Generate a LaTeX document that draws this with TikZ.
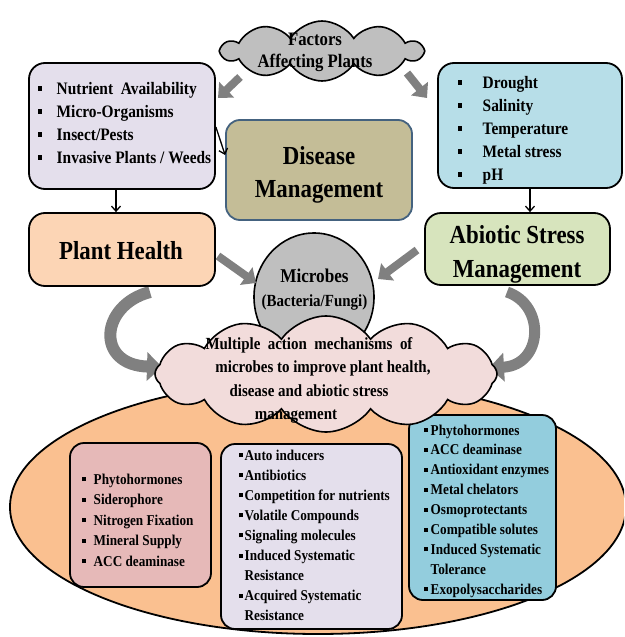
\documentclass[tikz,border=0pt]{standalone}
\usepackage{fontspec}
\setmainfont{Liberation Serif}[FakeStretch=0.88]
\usetikzlibrary{shapes.symbols,shapes.geometric,arrows.meta}
\definecolor{lavc}{HTML}{E4DFEC}
\definecolor{pinkb}{HTML}{E6B9B8}
\definecolor{blueb}{HTML}{93CDDD}
\definecolor{ltblue}{HTML}{B7DEE8}
\definecolor{peachc}{HTML}{FCD5B5}
\definecolor{greenc}{HTML}{D7E4BD}
\definecolor{tanc}{HTML}{C4BD97}
\definecolor{disborder}{HTML}{44627F}
\definecolor{grayc}{HTML}{BFBFBF}
\definecolor{pinkcl}{HTML}{F2DCDB}
\definecolor{ellc}{HTML}{FAC090}
\definecolor{arrgray}{HTML}{808080}
\newcommand\fsz[2]{\fontsize{#1}{#2}\selectfont\bfseries}
\newcommand\bta{\makebox[19pt][l]{\rule[3.5pt]{4.5pt}{5pt}}}
\newcommand\btb{\makebox[25pt][l]{\rule[3.5pt]{4.5pt}{5pt}}}
\newcommand\bba{\makebox[11.5pt][l]{\rule[3pt]{3.5pt}{4pt}}}
\newcommand\bbm{\makebox[5.5pt][l]{\rule[3pt]{3.5pt}{4pt}}}
\newcommand\bbr{\makebox[6.5pt][l]{\rule[3pt]{3.5pt}{4pt}}}
\begin{document}
\begin{tikzpicture}[x=1pt,y=-1pt,
  box/.style={draw=black, line width=1.8pt, rounded corners=16pt, inner sep=0pt},
  sbox/.style={draw=black, line width=1.8pt, rounded corners=14pt, inner sep=0pt},
  txt/.style={inner sep=0pt, align=left},
  ctxt/.style={inner sep=0pt, align=center},
  garrow/.style={draw=arrgray, line width=8pt, -{Triangle[length=12pt,width=21pt]}},
  carrow/.style={draw=arrgray, line width=12pt, -{Triangle[length=15pt,width=28pt]}},
  blk/.style={draw=black, line width=1.3pt, -{Straight Barb[length=5pt,width=9pt]}},
  cloudy/.style={cloud, draw=black, line width=1.6pt, inner sep=0pt}]
\useasboundingbox (0,0) rectangle (624,637);
% big ellipse
\begin{scope}
\clip (0,0) rectangle (624,637);
\node[ellipse, draw=black, line width=1.8pt, fill=ellc, minimum width=616pt, minimum height=254pt, inner sep=0pt] (ell) at (318,507) {};
\end{scope}
% bottom boxes
\node[sbox, fill=pinkb, minimum width=141pt, minimum height=144pt] (lbb) at (140.5,515) {};
\node[sbox, fill=lavc, minimum width=181pt, minimum height=185pt] (mbb) at (311.5,536.5) {};
\node[sbox, fill=blueb, minimum width=147pt, minimum height=185pt] (rbb) at (482.5,507.5) {};
\node[txt, anchor=base west, font=\fsz{15pt}{20.5pt}] (lbt) at (82,566) {\bba Phytohormones\\\bba Siderophore\\\bba Nitrogen Fixation\\\bba Mineral Supply\\\bba ACC deaminase};
\node[txt, anchor=base west, font=\fsz{15pt}{20.1pt}] (mbt) at (239,620.8) {\bbm Auto inducers\\\bbm Antibiotics\\\bbm Competition for nutrients\\\bbm Volatile Compounds\\\bbm Signaling molecules\\\bbm Induced Systematic\\\phantom{\bbm}Resistance\\\bbm Acquired Systematic\\\phantom{\bbm}Resistance};
\node[txt, anchor=base west, font=\fsz{15pt}{19.9pt}] (rbt) at (424,594.2) {\bbr Phytohormones\\\bbr ACC deaminase\\\bbr Antioxidant enzymes\\\bbr Metal chelators\\\bbr Osmoprotectants\\\bbr Compatible solutes\\\bbr Induced Systematic\\\phantom{\bbr}Tolerance\\\bbr Exopolysaccharides};
% curved arrows
\coordinate (cls) at (150,292);
\coordinate (cle) at (162,367);
\coordinate (crs) at (507,292);
\coordinate (cre) at (489,368);
\draw[carrow] (cls) .. controls (100,305) and (95,365) .. (cle);
\draw[carrow, line width=11pt] (crs) .. controls (546,305) and (543,365) .. (cre);
% microbes
\node[ellipse, draw=black, line width=1.6pt, fill=grayc, minimum width=120pt, minimum height=128pt, inner sep=0pt] (mic) at (314,297) {};
\node[ctxt, anchor=base, font=\fsz{17pt}{24pt}] (mict) at (314.5,306) {{\fontsize{19.5pt}{24pt}\selectfont Microbes}\\(Bacteria/Fungi)};
% pink cloud
\node[cloudy, fill=pinkcl, cloud puffs=12, cloud puff arc=110, minimum width=342pt, minimum height=116pt, aspect=2.9] (pcl) at (326,374) {};
\node[ctxt, anchor=base, font=\fsz{17pt}{23.5pt}] (pclt) at (309,419.5) {Multiple\ \ action\ \ mechanisms\ \ of\\\hspace*{28pt}microbes to improve plant health,\\disease and abiotic stress\\management\hspace*{26pt}};
% factors cloud
\node[cloudy, fill=grayc, cloud puffs=10, cloud puff arc=115, minimum width=200pt, minimum height=60pt, aspect=3.3] (fcl) at (322,51) {};
\node[ctxt, anchor=base, font=\fsz{19pt}{22pt}] (fclt) at (315,67) {Factors\\Affecting Plants};
% top boxes
\node[box, fill=lavc, minimum width=186pt, minimum height=126pt] (ltb) at (122,126) {};
\node[txt, anchor=base west, font=\fsz{17.5pt}{23pt}] (ltt) at (37.5,163) {\bta Nutrient\ \ Availability\\\bta Micro-Organisms\\\bta Insect/Pests\\\bta Invasive Plants / Weeds};
\node[box, fill=ltblue, minimum width=184pt, minimum height=125pt] (rtb) at (530,125.5) {};
\node[txt, anchor=base west, font=\fsz{17.5pt}{23pt}] (rtt) at (457.5,180) {\btb Drought\\\btb Salinity\\\btb Temperature\\\btb Metal stress\\\btb pH};
\node[sbox, draw=disborder, fill=tanc, minimum width=186pt, minimum height=100pt] (dis) at (319,170) {};
\node[ctxt, anchor=base, font=\fsz{26pt}{33pt}] (dist) at (319,197) {Disease\\Management};
\node[box, fill=peachc, minimum width=186pt, minimum height=73pt] (ph) at (122,249.5) {};
\node[ctxt, anchor=base, font=\fsz{26pt}{33pt}] (pht) at (121,259) {Plant Health};
\node[box, fill=greenc, minimum width=185pt, minimum height=72pt] (ab) at (517.5,249) {};
\node[ctxt, anchor=base, font=\fsz{26pt}{34pt}] (abt) at (517,277) {Abiotic Stress\\Management};
% black arrows
\draw[blk] ([xshift=-6pt]ltb.south) -- ([xshift=-6pt]ph.north);
\draw[blk] (rtb.south) -- (rtb.south |- ab.north);
\draw[blk] ([yshift=-1pt]ltb.east) -- ([yshift=15pt]dis.west);
% gray arrows
\coordinate (g1s) at (240,77);
\coordinate (g1e) at (218,98);
\coordinate (g2s) at (407,73);
\coordinate (g2e) at (427,98);
\coordinate (g3s) at (218,256);
\coordinate (g3e) at (256,283);
\coordinate (g4s) at (417,250);
\coordinate (g4e) at (378,279);
\draw[garrow] (g1s) -- (g1e);
\draw[garrow] (g2s) -- (g2e);
\draw[garrow] (g3s) -- (g3e);
\draw[garrow] (g4s) -- (g4e);
\end{tikzpicture}
\end{document}
